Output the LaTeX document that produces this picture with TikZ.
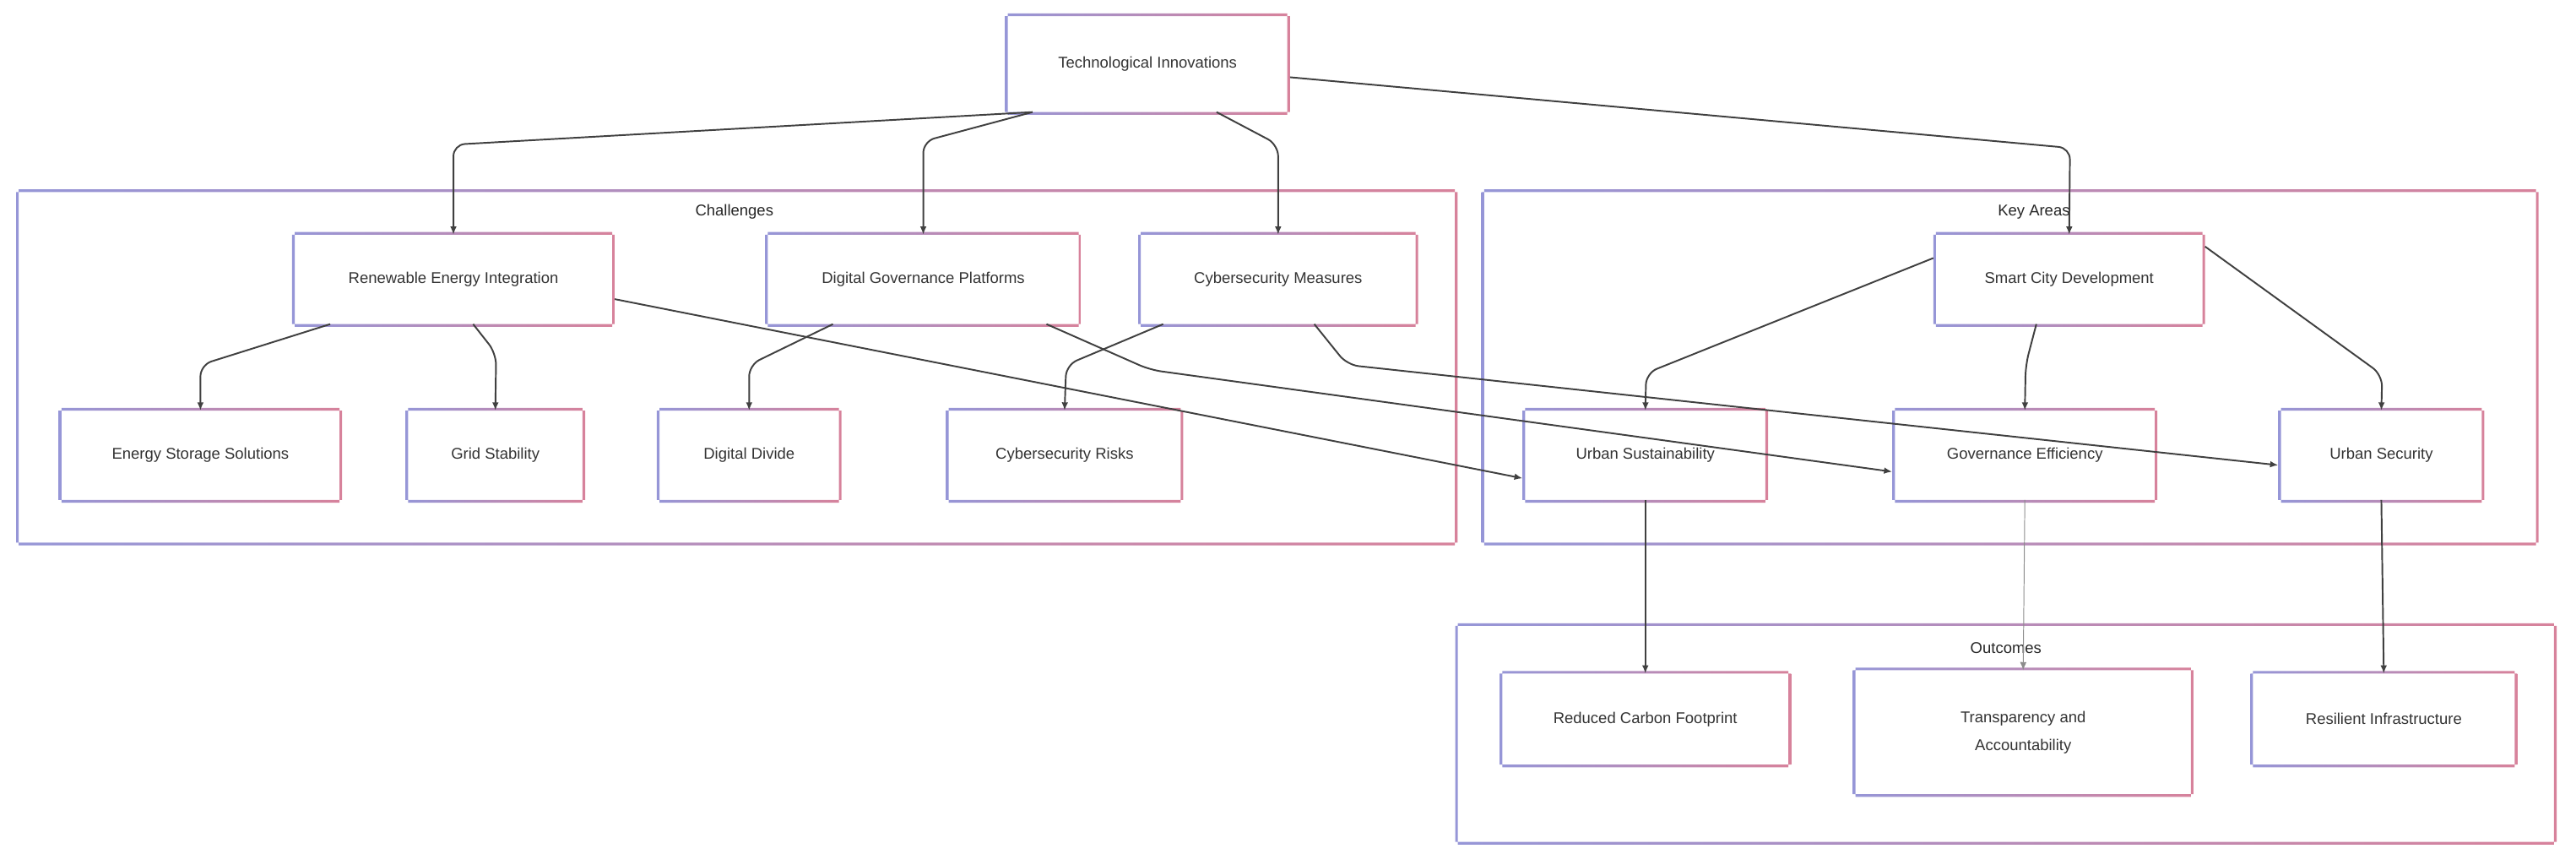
\documentclass[tikz,border=0pt]{standalone}
\usepackage{fontspec}
\setmainfont{Liberation Sans}
\usetikzlibrary{arrows.meta}
\definecolor{bl}{RGB}{150,150,215}
\definecolor{pk}{RGB}{215,130,155}
\newcommand{\gframe}[2][1.6pt]{%
  \shade[left color=bl,right color=pk,even odd rule]
    (#2.south west) rectangle (#2.north east)
    ([shift={(#1,-#1)}]#2.south west) rectangle ([shift={(-#1,#1)}]#2.north east);}
\begin{document}
\begin{tikzpicture}[x=1pt,y=-1pt,
  box/.style={minimum width=#1, inner sep=0pt, align=center, font=\fontsize{9.5}{17}\selectfont, text=black!80},
  box/.default=100pt,
  lab/.style={font=\fontsize{9.5}{12}\selectfont, text=black!85},
  ar/.style={-{Latex[length=5pt,width=4pt]}, line width=1pt, draw=black!75, rounded corners=7pt},
  ]
\useasboundingbox (0,0) rectangle (1568,526);
% clusters
\node[minimum width=877pt,minimum height=213pt,inner sep=0pt] (cch) at (448.5,223.5) {};
\node[minimum width=643pt,minimum height=213pt,inner sep=0pt] (cka) at (1223.5,223.5) {};
\node[minimum width=670pt,minimum height=131pt,inner sep=0pt] (cout) at (1221,446.5) {};
\gframe{cch}\gframe{cka}\gframe{cout}
\node[lab] (lch) at (447,129) {Challenges};
\node[lab] (lka) at (1238,129) {Key Areas};
\node[lab] (lout) at (1221,394) {Outcomes};
% nodes
\node[box=173pt,minimum height=58pt] (ti) at (698.5,39) {Technological Innovations};
\node[box=196pt,minimum height=54pt] (rei) at (276,170) {Renewable Energy Integration};
\node[box=192pt,minimum height=54pt] (dgp) at (562,170) {Digital Governance Platforms};
\node[box=170pt,minimum height=54pt] (cm) at (778,170) {Cybersecurity Measures};
\node[box=165pt,minimum height=54pt] (scd) at (1259.5,170) {Smart City Development};
\node[box=172pt,minimum height=54pt] (ess) at (122,277) {Energy Storage Solutions};
\node[box=109pt,minimum height=54pt] (gs) at (301.5,277) {Grid Stability};
\node[box=112pt,minimum height=54pt] (dd) at (456,277) {Digital Divide};
\node[box=144pt,minimum height=54pt] (cr) at (648,277) {Cybersecurity Risks};
\node[box=149pt,minimum height=54pt] (us) at (1001.5,277) {Urban Sustainability};
\node[box=161pt,minimum height=54pt] (ge) at (1232.5,277) {Governance Efficiency};
\node[box=125pt,minimum height=54pt] (usec) at (1449.5,277) {Urban Security};
\node[box=177pt,minimum height=55pt] (rcf) at (1001.5,437.5) {Reduced Carbon Footprint};
\node[box=207pt,minimum height=75pt] (ta) at (1231.5,445.5) {Transparency and\\Accountability};
\node[box=162pt,minimum height=55pt] (ri) at (1451,437.5) {Resilient Infrastructure};
\foreach \n in {ti,rei,dgp,cm,scd,ess,gs,dd,cr,us,ge,usec,rcf,ta,ri}{\gframe{\n}}
% edges
\draw[ar] ([xshift=-70pt]ti.south) -- (276,88) -- (rei.north);
\draw[ar] ([xshift=-70pt]ti.south) -- (562,86) -- (dgp.north);
\draw[ar] ([xshift=42pt]ti.south) -- (778,88) -- (cm.north);
\draw[ar] ([yshift=-8pt]ti.east) -- (1260,90) -- (scd.north);
\draw[ar] ([xshift=-75pt]rei.south) -- (122,222) -- (ess.north);
\draw[ar] ([xshift=12pt]rei.south) -- (302,215) -- (gs.north);
\draw[ar] ([xshift=-55pt]dgp.south) -- (456,222) -- (dd.north);
\draw[ar] ([xshift=-70pt]cm.south) -- (649,222) -- (cr.north);
\draw[ar] ([yshift=-12pt]rei.east) -- ([yshift=-14pt]us.west);
\draw[ar] ([xshift=75pt]dgp.south) -- (700,225) -- ([yshift=-10pt]ge.west);
\draw[ar] ([xshift=22pt]cm.south) -- (820,222) -- ([yshift=-6pt]usec.west);
\draw[ar] ([yshift=13pt]scd.west) -- (1002,227) -- (us.north);
\draw[ar] ([xshift=-20pt]scd.south) -- (1233,222) -- (ge.north);
\draw[ar] ([yshift=20pt]scd.east) -- (1450,228) -- (usec.north);
\draw[ar] (us.south) -- (rcf.north);
\draw[ar,line width=0.5pt,draw=black!45] (ge.south) -- (ta.north);
\draw[ar] (usec.south) -- (ri.north);
\end{tikzpicture}
\end{document}
